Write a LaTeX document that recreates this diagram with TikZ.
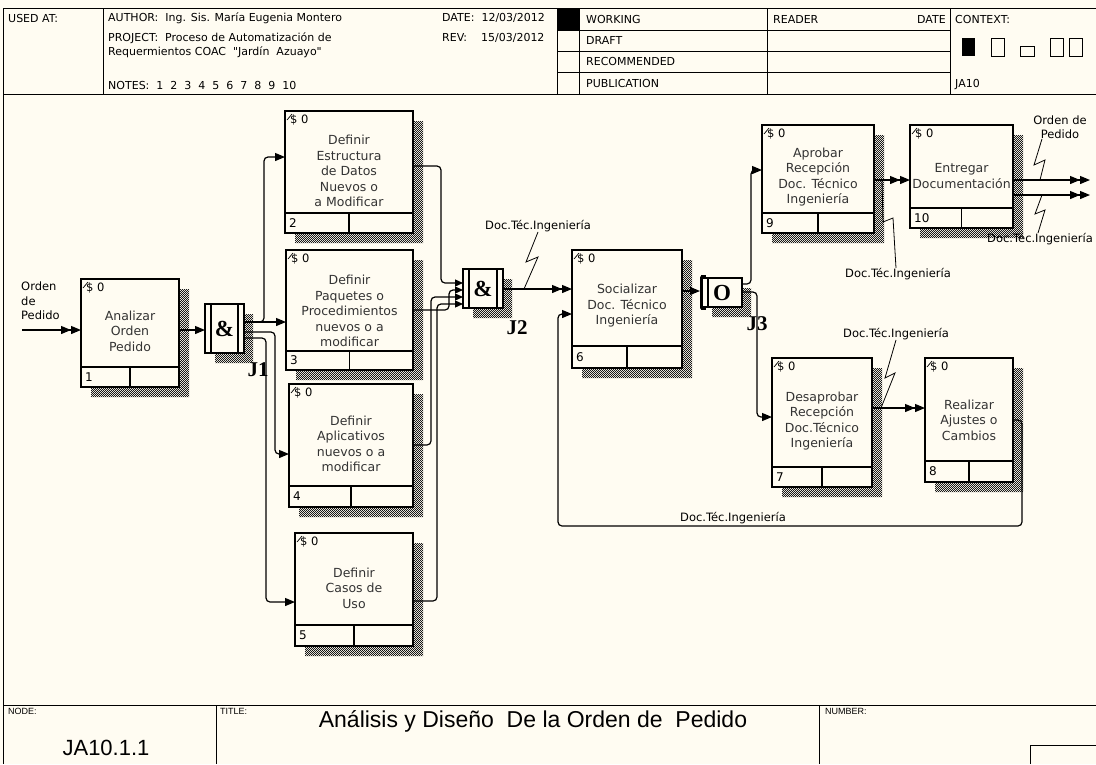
\documentclass[tikz,border=0pt]{standalone}
\usepackage{fontspec}
\setmainfont{Liberation Sans}
\newfontfamily\lblfont{DejaVu Sans}
\newfontfamily\jfont{Liberation Serif}
\usetikzlibrary{arrows.meta,patterns}
\definecolor{paper}{RGB}{255,252,242}

% fine checker used for the drop shadows
\pgfdeclarepatternformonly{dither}{\pgfpointorigin}{\pgfpoint{2.4pt}{2.4pt}}{\pgfpoint{2.4pt}{2.4pt}}{%
  \pgfpathrectangle{\pgfpointorigin}{\pgfpoint{1.2pt}{1.2pt}}%
  \pgfpathrectangle{\pgfpoint{1.2pt}{1.2pt}}{\pgfpoint{1.2pt}{1.2pt}}%
  \pgfusepath{fill}}

\tikzset{
  frame/.style={line width=1pt},
  actbox/.style={draw, line width=1.3pt, fill=paper, inner sep=0pt, outer sep=0pt},
  shade/.style={pattern=dither, pattern color=black!90},
  boxtext/.style={font=\lblfont\fontsize{12.5}{15.5}\selectfont, align=center, inner sep=0pt, text=black!80},
  cost/.style={font=\lblfont\fontsize{11.5}{12}\selectfont, anchor=north west, inner sep=0pt},
  num/.style={font=\lblfont\fontsize{12}{13}\selectfont, anchor=west, inner sep=0pt},
  hdr/.style={font=\lblfont\fontsize{11}{13}\selectfont, anchor=west, inner sep=0pt},
  tiny/.style={font=\fontsize{9}{10}\selectfont, anchor=north west, inner sep=0pt},
  arrowlbl/.style={font=\lblfont\fontsize{11.5}{14.5}\selectfont, inner sep=0pt, align=center},
  jsym/.style={font=\jfont\bfseries\fontsize{23}{23}\selectfont, inner sep=0pt},
  jname/.style={font=\jfont\bfseries\fontsize{21}{21}\selectfont, inner sep=0pt},
  flow/.style={line width=1.2pt, rounded corners=4pt},
  one/.style={flow, -{Triangle[length=10pt,width=8pt]}},
  two/.style={flow, -{Triangle[length=10pt,width=8pt]Triangle[length=10pt,width=8pt]}},
  comb/.style={flow, -{Triangle[length=8pt,width=7pt]}},
  squig/.style={line width=0.8pt},
}

% activity box: name, x1, y1, x2, y2, strip top, number, text centre y, text
\newcommand{\activity}[9]{%
  \fill[shade] (#4,#3+10) -- (#4+10,#3+10) -- (#4+10,#5+10) -- (#2+10,#5+10) -- (#2+10,#5) -- (#4,#5) -- cycle;
  \node[actbox, minimum width={(#4-#2)*1pt}, minimum height={(#5-#3)*1pt}] (#1) at ({(#2+#4)/2},{(#3+#5)/2}) {};
  \draw[line width=1.2pt] (#2,#6) -- (#4,#6) ({(#2+#4)/2},#6) -- ({(#2+#4)/2},#5);
  \draw[line width=0.7pt] (#2+2,#3+9) -- (#2+7,#3+3);
  \node[cost] at (#2+5,#3+4) {\$ 0};
  \node[num] at (#2+4,{(#6+#5)/2}) {#7};
  \node[boxtext] at ({(#2+#4)/2},#8) {#9};
}

% junction box: name, x1, y1, x2, y2, symbol
\newcommand{\junction}[6]{%
  \fill[shade] (#4,#3+10) -- (#4+9,#3+10) -- (#4+9,#5+10) -- (#2+10,#5+10) -- (#2+10,#5) -- (#4,#5) -- cycle;
  \node[actbox, minimum width={(#4-#2)*1pt}, minimum height={(#5-#3)*1pt}] (#1) at ({(#2+#4)/2},{(#3+#5)/2}) {};
  \node[jsym] at ({(#2+#4)/2},{(#3+#5)/2}) {#6};
}

\begin{document}
\begin{tikzpicture}[x=1pt,y=-1pt]
\useasboundingbox (0,0) rectangle (1096,764);
\fill[paper] (0,0) rectangle (1096,764);

% ---------- header form ----------
\draw[frame] (3,8) -- (1096,8);
\draw[frame] (3,94) -- (1096,94);
\draw[frame] (3,8) -- (3,764);
\foreach \xx in {103,557,579,767,950} \draw[frame] (\xx,8) -- (\xx,94);
\foreach \yy in {30,51,72} \draw[frame] (557,\yy) -- (950,\yy);
\fill (557,8) rectangle (579,30);

\node[hdr] (usedat) at (8,18) {USED AT:};
\node[hdr] (author) at (108,18) {AUTHOR:\ \ Ing. Sis. María Eugenia Montero};
\node[hdr] (project) at (108,38) {PROJECT:\ \ Proceso de Automatización de};
\node[hdr] (project2) at (108,52) {Requermientos COAC\ \ "Jardín\ \ Azuayo"};
\node[hdr] (notes) at (108,85) {NOTES:\ \ 1\ \ 2\ \ 3\ \ 4\ \ 5\ \ 6\ \ 7\ \ 8\ \ 9\ \ 10};
\node[hdr] (date) at (442,18) {DATE:\ \ 12/03/2012};
\node[hdr] (rev) at (442,38) {REV:\ \ \ \ 15/03/2012};
\node[hdr] (working) at (586,19) {WORKING};
\node[hdr] (draft) at (586,40) {DRAFT};
\node[hdr] (recom) at (586,61) {RECOMMENDED};
\node[hdr] (publi) at (586,83) {PUBLICATION};
\node[hdr] (reader) at (773,19) {READER};
\node[hdr, anchor=east] (rdate) at (946,19) {DATE};
\node[hdr] (context) at (955,19) {CONTEXT:};
\node[hdr] (ctxnode) at (955,85) {JA10};
\fill (962,38) rectangle (975,56);
\draw[line width=1pt] (991,38) rectangle (1004,56);
\draw[line width=1pt] (1020,46) rectangle (1034,56);
\draw[line width=1pt] (1050,38) rectangle (1063,56);
\draw[line width=1pt] (1069,38) rectangle (1082,56);

% ---------- footer form ----------
\draw[frame] (3,705) -- (1096,705);
\draw[frame] (216,705) -- (216,764);
\draw[frame] (819,705) -- (819,764);
\draw[frame] (1030,764) -- (1030,745) -- (1096,745);
\node[tiny] (nodehd) at (8,708) {NODE:};
\node[tiny] (titlehd) at (220,708) {TITLE:};
\node[tiny] (numberhd) at (825,708) {NUMBER:};
\node[font=\fontsize{22}{24}\selectfont, inner sep=0pt] (nodeid) at (106,748) {JA10.1.1};
\node[font=\fontsize{23}{25}\selectfont, inner sep=0pt] (title) at (533,721) {Análisis y Diseño\ \ De la Orden de\ \ Pedido};

% ---------- activities ----------
\activity{b1}{81}{279}{179}{387}{367}{1}{331}{Analizar\\Orden\\Pedido}
\activity{b2}{285}{111}{413}{233}{213}{2}{171}{Definir\\Estructura\\de Datos\\Nuevos o\\a Modificar}
\activity{b3}{286}{250}{413}{370}{351}{3}{311}{Definir\\Paquetes o\\Procedimientos\\nuevos o a\\modificar}
\activity{b4}{289}{384}{413}{507}{486}{4}{444}{Definir\\Aplicativos\\nuevos o a\\modificar}
\activity{b5}{295}{533}{413}{646}{625}{5}{588}{Definir\\Casos de\\Uso}
\activity{b6}{572}{250}{682}{368}{346}{6}{306}{Socializar\\Doc. Técnico\\Ingeniería}
\activity{b9}{762}{125}{874}{233}{213}{9}{177}{Aprobar\\Recepción\\Doc. Técnico\\Ingeniería}
\activity{b10}{910}{125}{1013}{228}{208}{10}{176}{Entregar\\Documentación}
\activity{b7}{772}{358}{872}{487}{467}{7}{421}{Desaprobar\\Recepción\\Doc.Técnico\\Ingeniería}
\activity{b8}{925}{358}{1013}{482}{461}{8}{420}{Realizar\\Ajustes o\\Cambios}

% ---------- junctions ----------
\junction{j1}{205}{304}{244}{353}{\&}
\draw[line width=1.1pt] (211,304) -- (211,353) (238,304) -- (238,353);
\node[jname] (j1lbl) at (258,370) {J1};

\junction{j2}{463}{269}{503}{308}{\&}
\draw[line width=1.1pt] (469,269) -- (469,308) (497,269) -- (497,308);
\node[jname] (j2lbl) at (517,328) {J2};

\junction{j3}{702}{278}{742}{307}{O}
\draw[line width=1.1pt] (708,278) -- (708,307);
\draw[line width=3pt, line cap=round] (701,277) -- (701,308);
\draw[line width=1.1pt] (701,276) -- (706,276) (701,309) -- (706,309);
\node[jname] (j3lbl) at (757,324) {J3};

% ---------- flows ----------
\coordinate (srcL) at (22,330);
\node[arrowlbl, align=left, anchor=west] (srclbl) at (21,301) {Orden\\de\\Pedido};
\draw[two] (srcL) -- (b1.west |- 0,330);
\draw[one] (b1.east |- 0,330) -- (j1.west |- 0,330);

% J1 fan-out
\draw[one] (j1.east |- 0,322) -- (264,322) -- (264,157) -- (b2.west |- 0,157);
\draw[one] (j1.east |- 0,322) -- (b3.west |- 0,322);
\draw[one] (j1.east |- 0,332) -- (275,332) -- (275,454) -- (b4.west |- 0,454);
\draw[one] (j1.east |- 0,338) -- (266,338) -- (266,602) -- (b5.west |- 0,602);

% fan-in to J2
\draw[comb] (b2.east |- 0,166) -- (441,166) -- (441,283) -- (j2.west |- 0,283);
\draw[comb] (b3.east |- 0,310) -- (449,310) -- (449,290) -- (j2.west |- 0,290);
\draw[comb] (b4.east |- 0,445) -- (431,445) -- (431,297) -- (j2.west |- 0,297);
\draw[comb] (b5.east |- 0,601) -- (437,601) -- (437,304) -- (j2.west |- 0,304);

\draw[two] (j2.east |- 0,289) -- (b6.west |- 0,289);
\node[arrowlbl] (lab1) at (538,226) {Doc.Téc.Ingeniería};
\coordinate (t1) at (524,289);
\draw[squig] (lab1.south) -- (526,262) -- (538,257) -- (t1);

\draw[one, shorten >=2pt] (b6.east |- 0,291) -- (j3.west |- 0,291);

% J3 branches
\draw[one] (j3.east |- 0,284) -- (751,284) -- (751,170) -- (b9.west |- 0,170);
\draw[one] (j3.east |- 0,292) -- (757,292) -- (757,417) -- (b7.west |- 0,417);

% approval path
\draw[two] (b9.east |- 0,180) -- (b10.west |- 0,180);
\node[arrowlbl] (lab2) at (898,274) {Doc.Téc.Ingeniería};
\coordinate (t2) at (882,180);
\draw[squig] (t2) -- (883,222) -- (893,218) -- (lab2.north -| 896,0);

\coordinate (out1) at (1090,180);
\coordinate (out2) at (1090,195);
\draw[two] (b10.east |- 0,180) -- (out1);
\draw[two] (b10.east |- 0,195) -- (out2);
\node[arrowlbl] (lab4) at (1060,127) {Orden de\\Pedido};
\draw[squig] (lab4.south -| 1042,0) -- (1034,165) -- (1045,160) -- (1040,180);
\node[arrowlbl] (lab5) at (1040,239) {Doc.Téc.Ingeniería};
\draw[squig] (1042,195) -- (1035,214) -- (1045,210) -- (lab5.north -| 1038,0);

% rejection path
\draw[two] (b7.east |- 0,408) -- (b8.west |- 0,408);
\node[arrowlbl] (lab3) at (896,334) {Doc.Téc.Ingeniería};
\coordinate (t3) at (881,408);
\draw[squig] (lab3.south) -- (885,378) -- (895,373) -- (t3);

% feedback to socialisation
\draw[one] (b8.east |- 0,420) -- (1022,420) -- (1022,526) -- (558,526) -- (558,314) -- (b6.west |- 0,314);
\node[arrowlbl] (lab6) at (733,518) {Doc.Téc.Ingeniería};

\end{tikzpicture}
\end{document}
